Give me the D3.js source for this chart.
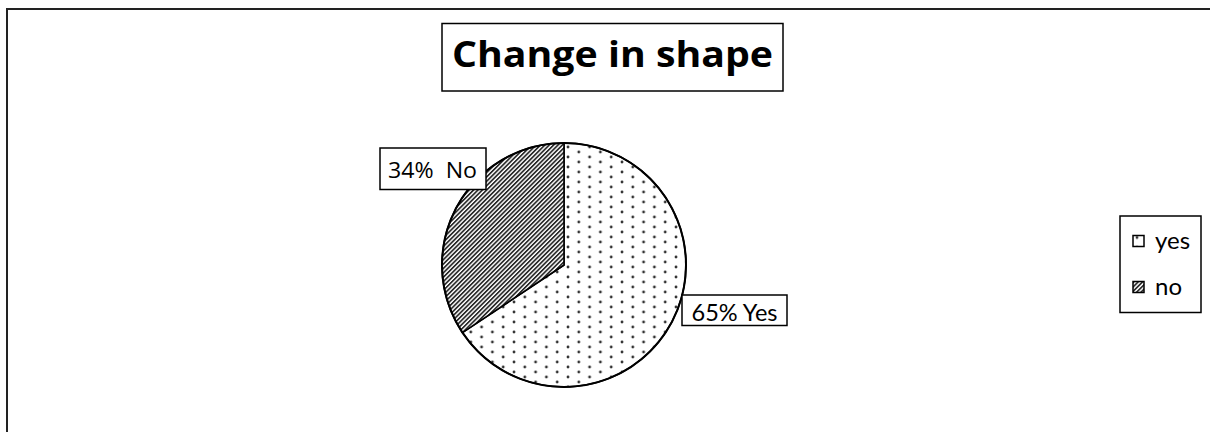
<!DOCTYPE html>
<html>
<head>
<meta charset="utf-8">
<script src="https://cdn.jsdelivr.net/npm/d3@7"></script>
<style>
  html, body { margin: 0; padding: 0; background: #fff; overflow: hidden; }
  svg { display: block; }
  text { white-space: pre; }
</style>
</head>
<body>
<svg id="chart" width="1210" height="432"></svg>
<script>
// Survey answers: did the shape change?
const categories = ["yes", "no"];
const values = [65, 34];
const sliceLabels = ["65% Yes", "34%  No"];
const chartTitle = "Change in shape";

const svg = d3.select("#chart");
const W = 1210, H = 432;

// Fill patterns: dotted for "yes", diagonal hatch for "no"
const defs = svg.append("defs");
const dots = defs.append("pattern")
  .attr("id", "pat-yes")
  .attr("patternUnits", "userSpaceOnUse")
  .attr("width", 21.6).attr("height", 10)
  .attr("x", 2).attr("y", 0);
dots.append("rect").attr("width", 21.6).attr("height", 10).attr("fill", "#fff");
dots.append("circle").attr("cx", 2).attr("cy", 2).attr("r", 1.4).attr("fill", "#333");
dots.append("circle").attr("cx", 12.8).attr("cy", 7).attr("r", 1.4).attr("fill", "#333");

const hatch = defs.append("pattern")
  .attr("id", "pat-no")
  .attr("patternUnits", "userSpaceOnUse")
  .attr("width", 3.1).attr("height", 10)
  .attr("patternTransform", "rotate(45)");
hatch.append("rect").attr("width", 3.1).attr("height", 10).attr("fill", "#fff");
hatch.append("rect").attr("width", 1.7).attr("height", 10).attr("fill", "#2a2a2a");

const fills = d3.scaleOrdinal().domain(categories).range(["url(#pat-yes)", "url(#pat-no)"]);

// Outer chart frame (runs off the right and bottom edges)
svg.append("path")
  .attr("d", `M7,${H + 20}V9H${W + 20}`)
  .attr("fill", "none").attr("stroke", "#222").attr("stroke-width", 2);

// Title in a box
const title = svg.append("g");
title.append("rect")
  .attr("x", 442).attr("y", 23.5).attr("width", 341).attr("height", 67.5)
  .attr("fill", "#fff").attr("stroke", "#000").attr("stroke-width", 1.5);
title.append("text")
  .attr("x", 452).attr("y", 67)
  .attr("font-family", "'Open Sans', Lato, sans-serif")
  .attr("font-weight", "bold").attr("font-size", 36)
  .attr("textLength", 321).attr("lengthAdjust", "spacingAndGlyphs")
  .attr("fill", "#000")
  .text(chartTitle);

// Pie
const cx = 564, cy = 265, R = 122;
const pie = d3.pie().sort(null).value(d => d.v);
const arcs = pie(categories.map((c, i) => ({ c, v: values[i], label: sliceLabels[i] })));
const arc = d3.arc().innerRadius(0).outerRadius(R);

const pg = svg.append("g").attr("transform", `translate(${cx},${cy})`);
pg.selectAll("path.slice")
  .data(arcs)
  .join("path")
  .attr("class", "slice")
  .attr("d", arc)
  .attr("fill", d => fills(d.data.c))
  .attr("stroke", "#000")
  .attr("stroke-width", 1.6)
  .attr("stroke-linejoin", "round");
pg.append("circle")
  .attr("r", R).attr("fill", "none")
  .attr("stroke", "#000").attr("stroke-width", 2);

// Data label boxes, placed relative to the pie centre
const labelLayout = {
  yes: { dx: 118, dy: 30, w: 105, h: 30.5, tx: 9.5, ty: 26, font: "Lato, 'Open Sans', sans-serif", size: 23, len: 86 },
  no:  { dx: -184, dy: -117, w: 106, h: 41.5, tx: 8, ty: 30, font: "'Open Sans', sans-serif", size: 21, len: 89 }
};
arcs.forEach(d => {
  const L = labelLayout[d.data.c];
  const g = svg.append("g").attr("transform", `translate(${cx + L.dx},${cy + L.dy})`);
  g.append("rect")
    .attr("width", L.w).attr("height", L.h)
    .attr("fill", "#fff").attr("stroke", "#000").attr("stroke-width", 1.5);
  g.append("text")
    .attr("x", L.tx).attr("y", L.ty)
    .attr("font-family", L.font).attr("font-size", L.size)
    .attr("textLength", L.len).attr("lengthAdjust", "spacingAndGlyphs")
    .attr("fill", "#000")
    .text(d.data.label);
});

// Legend
const lg = svg.append("g").attr("transform", "translate(1120,216)");
lg.append("rect")
  .attr("width", 81).attr("height", 96.5)
  .attr("fill", "#fff").attr("stroke", "#000").attr("stroke-width", 1.5);
const items = lg.selectAll("g.item")
  .data(categories)
  .join("g")
  .attr("class", "item")
  .attr("transform", (d, i) => `translate(13,${19.5 + i * 46})`);
items.append("rect")
  .attr("width", 11).attr("height", 11)
  .attr("fill", d => fills(d))
  .attr("stroke", "#000").attr("stroke-width", 1.5);
items.append("text")
  .attr("x", 22).attr("y", 13.5)
  .attr("font-family", "Lato, 'Open Sans', sans-serif")
  .attr("font-size", 24)
  .attr("fill", "#000")
  .text(d => d);
</script>
</body>
</html>
